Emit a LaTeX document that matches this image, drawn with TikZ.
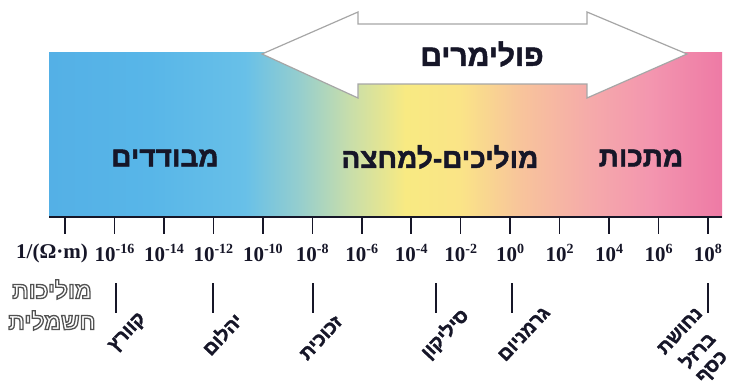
\documentclass[tikz,border=0pt]{standalone}
\usepackage{fontspec}
\setmainfont{Liberation Serif}
\newfontfamily\heb[Script=Hebrew, BoldFeatures={FakeBold=1.6}]{Liberation Sans}
\newfontfamily\hebplain[Script=Hebrew]{Liberation Sans}
\TeXXeTstate=1
\definecolor{g0}{RGB}{84,176,230}
\definecolor{g1}{RGB}{88,182,232}
\definecolor{g2}{RGB}{104,192,232}
\definecolor{g3}{RGB}{150,206,205}
\definecolor{g4}{RGB}{200,222,170}
\definecolor{g5}{RGB}{248,234,130}
\definecolor{g6}{RGB}{250,228,135}
\definecolor{g7}{RGB}{248,196,155}
\definecolor{g8}{RGB}{245,170,170}
\definecolor{g9}{RGB}{243,150,175}
\definecolor{g10}{RGB}{238,122,165}
\definecolor{ink}{RGB}{22,22,40}
\newcommand\sups[1]{\raisebox{0.40em}{\fontsize{14}{14}\selectfont #1}}
\newcommand\hb[1]{\beginR #1\endR}
\newcommand\hollow[1]{\special{pdf:literal direct 2 Tr 1.3 w 0.32 G 1 g}#1\special{pdf:literal direct 0 Tr 0 g 0 G}}
\begin{document}
\begin{tikzpicture}[x=1pt,y=-1pt,
  tickline/.style={line width=1.5pt, ink},
  tlab/.style={font=\fontsize{21}{21}\selectfont\bfseries, text=ink, inner sep=0pt},
  region/.style={font=\heb\fontsize{28}{28}\selectfont\bfseries, text=ink, inner sep=0pt},
  mat/.style={font=\heb\fontsize{19}{19}\selectfont\bfseries, text=ink, inner sep=0pt, rotate=47}]
\useasboundingbox (0,0) rectangle (733,390);
\fill[white] (0,0) rectangle (733,390);
% left hollow label (drawn first)
\node[font=\hebplain\fontsize{23}{31}\selectfont\bfseries, align=center, inner sep=0pt] (cond) at (52,305)
  {\hollow{\hb{מוליכות}}\\ \hollow{\hb{חשמלית}}};
% gradient bar
\shade[left color=g0,right color=g1] (49,53) rectangle (150.5,217);
\shade[left color=g1,right color=g2] (150,53) rectangle (245.5,217);
\shade[left color=g2,right color=g3] (245,53) rectangle (300.5,217);
\shade[left color=g3,right color=g4] (300,53) rectangle (350.5,217);
\shade[left color=g4,right color=g5] (350,53) rectangle (405.5,217);
\shade[left color=g5,right color=g6] (405,53) rectangle (460.5,217);
\shade[left color=g6,right color=g7] (460,53) rectangle (520.5,217);
\shade[left color=g7,right color=g8] (520,53) rectangle (590.5,217);
\shade[left color=g8,right color=g9] (590,53) rectangle (650.5,217);
\shade[left color=g9,right color=g10] (650,53) rectangle (722,217);
\draw[line width=1.2pt, ink] (49,217) -- (722,217);
% polymer arrow
\draw[line width=1.2pt, draw=gray!70, fill=white]
  (262,54) -- (358,12) -- (358,24) -- (587,24) -- (587,12) -- (687,54)
  -- (587,98) -- (587,84) -- (358,84) -- (358,98) -- cycle;
\node[region, font=\heb\fontsize{30}{30}\selectfont\bfseries] (poly) at (482,54) {\hb{פולימרים}};
% region labels
\node[region] (ins) at (165,158) {\hb{מבודדים}};
\node[region] (semi) at (440,157) {\hb{מוליכים-למחצה}};
\node[region] (met) at (641,158) {\hb{מתכות}};
% ticks and tick labels
\foreach \k in {0,...,13} \draw[tickline] ({65+49.46*\k},217) -- ++(0,17);
\node[tlab] (unit) at (52,253) {1/(Ω·m)};
\foreach \k/\e in {1/-16,2/-14,3/-12,4/-10,5/-8,6/-6,7/-4,8/-2,9/0,10/2,11/4,12/6,13/8}
  \node[tlab] (t\k) at ({65+49.46*\k},253) {10\sups{\e}};
% material markers
\foreach \x in {116,213,313,436,512,708} \draw[tickline] (\x,283) -- (\x,313);
\node[mat] (quartz) at (128,333) {\hb{קוורץ}};
\node[mat] (diamond) at (222,334) {\hb{יהלום}};
\node[mat] (glass) at (321,338) {\hb{זכוכית}};
\node[mat] (si) at (445,334) {\hb{סיליקון}};
\node[mat] (ge) at (524,334) {\hb{גרמניום}};
\node[mat] (cu) at (680,331) {\hb{נחושת}};
\node[mat] (fe) at (697,350) {\hb{ברזל}};
\node[mat] (ag) at (713,368) {\hb{כסף}};
\end{tikzpicture}
\end{document}
